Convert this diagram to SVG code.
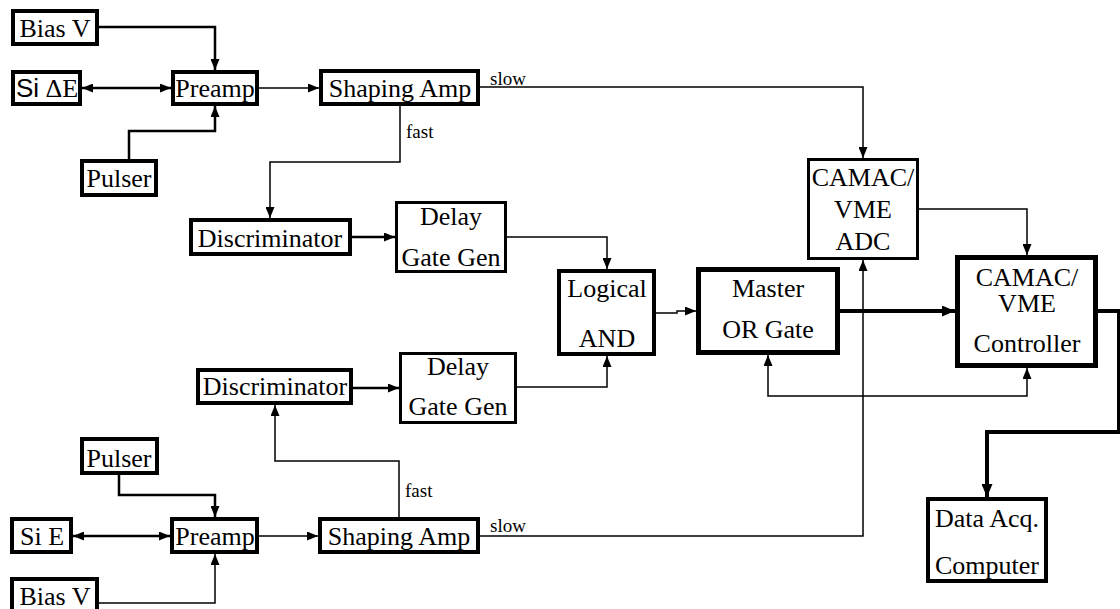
<svg xmlns="http://www.w3.org/2000/svg" width="1120" height="609" viewBox="0 0 1120 609">
<style>
.box{fill:#fff;stroke:#000;stroke-width:4}
.thin{stroke-width:3}
.heavy{stroke-width:5}
.t{font-size:26px;fill:#000;text-anchor:middle}
.lbl{font-size:19px;fill:#000;text-anchor:start}
.c{fill:none;stroke:#000;stroke-width:1.5}
.c2{stroke-width:2.5}
.c4{stroke-width:4}
.a{marker-end:url(#ah)}
.ab{marker-start:url(#ah);marker-end:url(#ah)}
.at{marker-end:url(#ahT)}
</style>
<defs>
<marker id="ah" markerUnits="userSpaceOnUse" markerWidth="11" markerHeight="9" refX="11" refY="4.5" orient="auto-start-reverse" viewBox="0 0 11 9">
<path d="M0,0 L11,4.5 L0,9 z" fill="#000"/>
</marker>
<marker id="ahT" markerUnits="userSpaceOnUse" markerWidth="13" markerHeight="11" refX="13" refY="5.5" orient="auto" viewBox="0 0 13 11">
<path d="M0,0 L13,5.5 L0,11 z" fill="#000"/>
</marker>
</defs>
<g id="connectors">
<path class="c c2 a" d="M99,27 H215 V70"/>
<path class="c c2 a" d="M129,159 V131 H215 V106"/>
<path class="c c2 ab" d="M82,88 H171"/>
<path class="c a" d="M259,88 H319"/>
<path class="c a" d="M480,87 H863 V158"/>
<path class="c a" d="M400,106 V162 H270 V218"/>
<path class="c c2 a" d="M352,237 H395"/>
<path class="c a" d="M507,237 H607 V269"/>
<path class="c a" d="M517,387 H607 V356"/>
<path class="c a" d="M656,313 H677 V311 H696"/>
<path class="c c4 at" d="M840,311 H955"/>
<path class="c a" d="M919,209 H1027 V255"/>
<path class="c ab" d="M768,355 V396 H1027 V368"/>
<path class="c a" d="M480,536 H863 V260"/>
<path class="c a" d="M399,517 V461 H275 V405"/>
<path class="c c2 a" d="M353,388 H399"/>
<path class="c c2 a" d="M119,475 V495 H215 V517"/>
<path class="c c2 ab" d="M73,536 H170"/>
<path class="c a" d="M259,536 H318"/>
<path class="c a" d="M99,603 H215 V554"/>
<path class="c c4 at" d="M1098,311 H1119 V432 H987 V497"/>
</g>
<g font-family="'Liberation Serif', Tinos, 'Times New Roman', 'Nimbus Roman', 'DejaVu Serif', serif">
<text class="lbl" x="490" y="85">slow</text>
<text class="lbl" x="406" y="138">fast</text>
<text class="lbl" x="405" y="497">fast</text>
<text class="lbl" x="490" y="532">slow</text>
<g id="biasv1"><rect class="box" x="13" y="11" width="84" height="33"/><text class="t" x="55" y="37">Bias V</text></g>
<g id="side"><rect class="box" x="13" y="72" width="67" height="32"/><text class="t" x="47" y="97"><tspan font-family="'Liberation Sans', Arial, sans-serif">Si</tspan> ΔE</text></g>
<g id="preamp1"><rect class="box" x="173" y="72" width="84" height="32"/><text class="t" x="215" y="97">Preamp</text></g>
<g id="pulser1"><rect class="box" x="82" y="161" width="74" height="34"/><text class="t" x="119" y="187">Pulser</text></g>
<g id="shaping1"><rect class="box" x="321" y="71" width="157" height="33"/><text class="t" x="400" y="97">Shaping Amp</text></g>
<g id="disc1"><rect class="box" x="191" y="220" width="159" height="34"/><text class="t" x="270" y="247">Discriminator</text></g>
<g id="delay1"><rect class="box thin" x="396.5" y="202.5" width="109" height="69"/><text class="t" x="451" y="225">Delay</text><text class="t" x="451" y="266">Gate Gen</text></g>
<g id="logical"><rect class="box" x="559" y="271" width="95" height="83"/><text class="t" x="607" y="297">Logical</text><text class="t" x="607" y="347">AND</text></g>
<g id="master"><rect class="box heavy" x="698.5" y="269.5" width="139" height="83"/><text class="t" x="768" y="297">Master</text><text class="t" x="768" y="338">OR Gate</text></g>
<g id="adc"><rect class="box thin" x="808.5" y="159.5" width="109" height="99"/><text class="t" x="863" y="186">CAMAC/</text><text class="t" x="863" y="218">VME</text><text class="t" x="863" y="250">ADC</text></g>
<g id="controller"><rect class="box heavy" x="957.5" y="257.5" width="138" height="108"/><text class="t" x="1027" y="286">CAMAC/</text><text class="t" x="1027" y="312">VME</text><text class="t" x="1027" y="352">Controller</text></g>
<g id="daq"><rect class="box" x="928" y="499" width="118" height="82"/><text class="t" x="987" y="527">Data Acq.</text><text class="t" x="987" y="574">Computer</text></g>
<g id="disc2"><rect class="box" x="198" y="370" width="153" height="33"/><text class="t" x="275" y="395">Discriminator</text></g>
<g id="delay2"><rect class="box thin" x="400.5" y="353.5" width="115" height="69"/><text class="t" x="458" y="375">Delay</text><text class="t" x="458" y="415">Gate Gen</text></g>
<g id="pulser2"><rect class="box" x="82" y="439" width="75" height="34"/><text class="t" x="119" y="467">Pulser</text></g>
<g id="sie"><rect class="box" x="12" y="519" width="59" height="33"/><text class="t" x="42" y="545">Si E</text></g>
<g id="preamp2"><rect class="box" x="172" y="519" width="85" height="33"/><text class="t" x="215" y="545">Preamp</text></g>
<g id="shaping2"><rect class="box" x="320" y="519" width="158" height="33"/><text class="t" x="399" y="545">Shaping Amp</text></g>
<g id="biasv2"><rect class="box" x="12" y="579" width="85" height="33"/><text class="t" x="55" y="605">Bias V</text></g>
</g>
</svg>
